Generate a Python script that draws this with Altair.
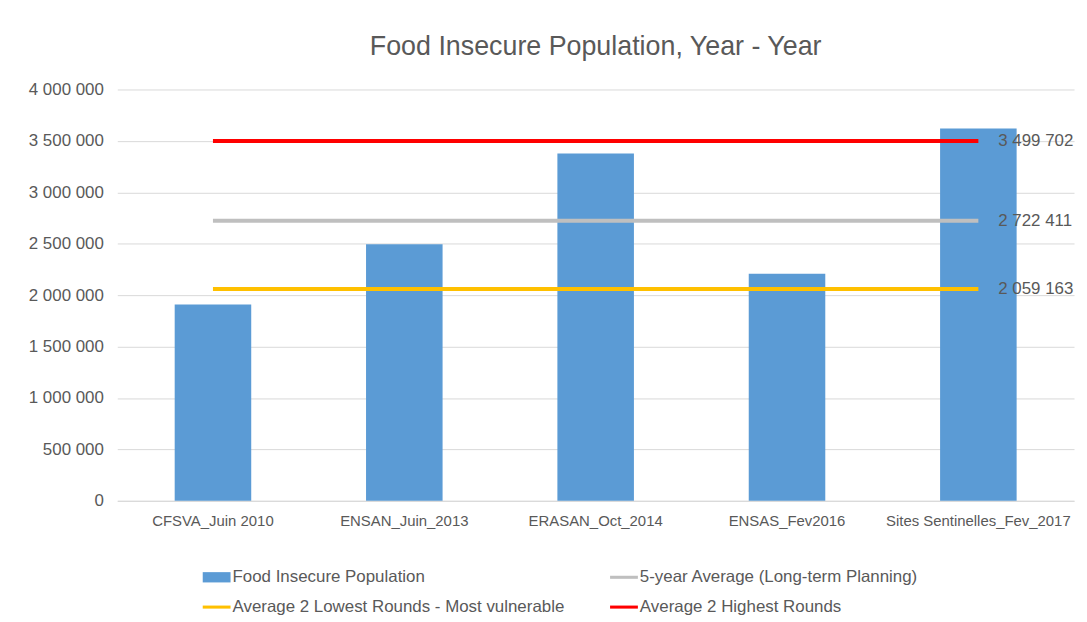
import altair as alt
import pandas as pd

categories = ["CFSVA_Juin 2010", "ENSAN_Juin_2013", "ERASAN_Oct_2014", "ENSAS_Fev2016", "Sites Sentinelles_Fev_2017"]
population = [1910000, 2494000, 3378000, 2208000, 3621000]

series_names = ["Food Insecure Population", "5-year Average (Long-term Planning)",
                "Average 2 Lowest Rounds - Most vulnerable", "Average 2 Highest Rounds"]
series_colors = ["#5B9BD5", "#BFBFBF", "#FFC000", "#FF0000"]

avg_names = ["5-year Average (Long-term Planning)", "Average 2 Lowest Rounds - Most vulnerable", "Average 2 Highest Rounds"]
avg_values = [2722411, 2059163, 3499702]

FONT = "Liberation Sans"
GREY = "#595959"

bars = pd.DataFrame({"category": categories, "value": population, "series": series_names[0]})
lines = pd.DataFrame([{"category": c, "value": v, "series": n}
                      for n, v in zip(avg_names, avg_values) for c in categories])
labels = pd.DataFrame({"category": [categories[-1]] * 3, "value": avg_values, "series": avg_names})
legend_df = pd.DataFrame({"category": [categories[0]] * 4, "value": [0] * 4, "series": series_names})

x_enc = alt.X("category:N", sort=categories, title=None,
              scale=alt.Scale(paddingInner=0.6, paddingOuter=0.3),
              axis=alt.Axis(labelAngle=0, labelFontSize=15, labelColor=GREY, labelFont=FONT,
                            domainColor="#D9D9D9", ticks=False, labelPadding=13, labelLimit=300))
y_enc = alt.Y("value:Q", title=None,
              scale=alt.Scale(domain=[0, 4000000]),
              axis=alt.Axis(values=list(range(0, 4000001, 500000)), labelFontSize=17, labelColor=GREY,
                            labelFont=FONT, domain=False, ticks=False, labelPadding=14,
                            gridColor="#D9D9D9",
                            labelExpr="replace(replace(format(datum.value, ',d'), ',', ' '), ',', ' ')"))
color_scale = alt.Scale(domain=series_names, range=series_colors)
shape_scale = alt.Scale(domain=series_names,
                        range=["M-1,-0.37H1V0.37H-1Z", "M-1,-0.11H1V0.11H-1Z",
                               "M-1,-0.11H1V0.11H-1Z", "M-1,-0.11H1V0.11H-1Z"])
legend_spec = alt.Legend(title=None, orient="none", legendX=86, legendY=477, columns=2,
                         direction="horizontal",
                         symbolOpacity=1, symbolSize=784, labelFontSize=17, labelFont=FONT,
                         labelColor=GREY, labelLimit=500, columnPadding=45, labelOffset=2,
                         rowPadding=8, symbolStrokeWidth=0)

bar_layer = alt.Chart(bars).mark_bar().encode(
    x=x_enc, y=y_enc,
    color=alt.Color("series:N", scale=color_scale, legend=legend_spec))

line_layer = alt.Chart(lines).mark_line(strokeWidth=4).encode(
    x=alt.X("category:N", sort=categories),
    y="value:Q",
    detail="series:N",
    color=alt.Color("series:N", scale=color_scale, legend=legend_spec))

text_layer = alt.Chart(labels).transform_calculate(
    lab="replace(replace(format(datum.value, ',d'), ',', ' '), ',', ' ')"
).mark_text(align="left", dx=20, fontSize=17, font=FONT, color=GREY).encode(
    x=alt.X("category:N", sort=categories),
    y="value:Q",
    text="lab:N")

legend_layer = alt.Chart(legend_df).mark_point(filled=True, opacity=0).encode(
    x=alt.X("category:N", sort=categories),
    y="value:Q",
    color=alt.Color("series:N", scale=color_scale, legend=legend_spec),
    shape=alt.Shape("series:N", scale=shape_scale, legend=legend_spec))

chart = alt.layer(bar_layer, line_layer, text_layer, legend_layer).properties(
    width=963, height=414,
    title=alt.Title("Food Insecure Population, Year - Year", fontSize=27, font=FONT,
                    color=GREY, fontWeight="normal", offset=20)
).configure(background="white", padding={"left": 20, "top": 23, "right": 5, "bottom": 5},
            view=alt.ViewConfig(stroke=None))

chart.save("out.html", embed_options={"renderer": "svg", "actions": False})
